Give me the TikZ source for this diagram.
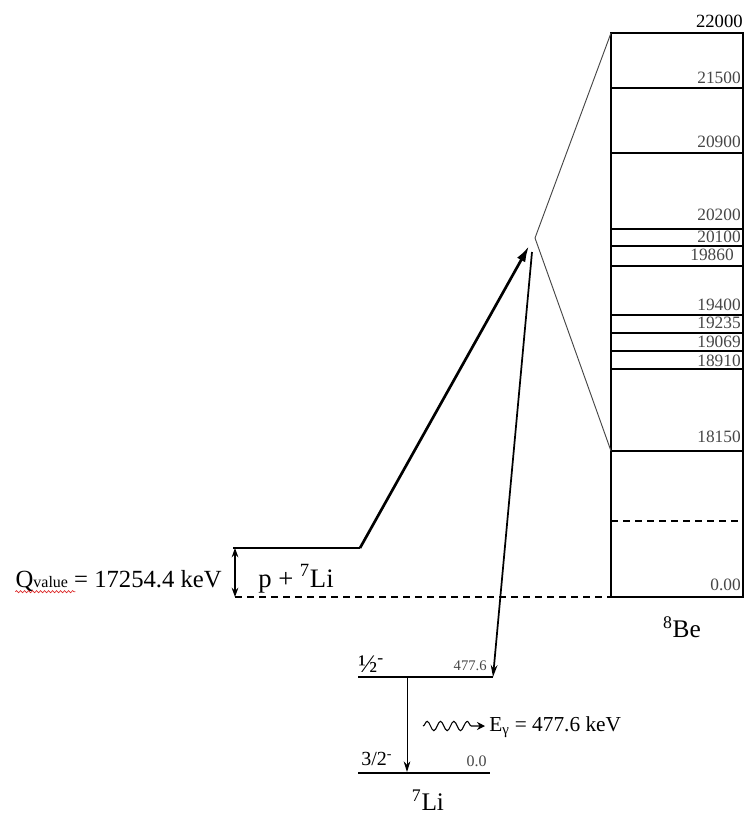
\documentclass[tikz,border=0pt]{standalone}
\usepackage{fontspec}
\setmainfont{Liberation Serif}
\usepackage{tikz}
\usetikzlibrary{
  arrows.meta,
  positioning,
  decorations.pathmorphing
}
\definecolor{LevelGray}{RGB}{70, 70, 70}
\definecolor{SpellRed}{RGB}{220, 40, 40}

\begin{document}
\begin{tikzpicture}[x=0.75pt, y=-0.75pt,
    every node/.style={inner sep=0pt},
    boxline/.style={line width=2.2pt},
    level/.style={line width=1.5pt},
    dashlevel/.style={line width=2.2pt, dash pattern=on 5pt off 4pt},
    zoomline/.style={line width=0.7pt, LevelGray},
    enlbl/.style={font=\fontsize{13}{15}\selectfont, text=LevelGray, anchor=base east},
    bigtxt/.style={font=\fontsize{18.5}{22}\selectfont}
  ]
  \useasboundingbox (0,0) rectangle (745,814);

  % 8Be level scheme
  \coordinate (be-tl) at (611,33);
  \coordinate (be-tr) at (743,33);
  \coordinate (be-bl) at (611,597);
  \coordinate (be-br) at (743,597);
  \coordinate (be-18150) at (611,451);
  \coordinate (apex) at (535,238);
  \draw[boxline] (be-tl) rectangle (be-br);
  \node[enlbl, font=\fontsize{14}{16}\selectfont, text=black] (e22000) at (743,27) {22000};
  \foreach \ly/\en/\ty in {88/21500/83, 153/20900/147, 229/20200/220, 246/20100/242,
                           315/19400/310, 333/19235/328, 351/19069/347, 369/18910/366,
                           451/18150/442} {
    \draw[level] (611,\ly) -- (743,\ly);
    \node[enlbl] at (741,\ty) {\en};
  }
  \draw[level] (611,266) -- (743,266);
  \node[enlbl] (e19860) at (734,260) {19860};
  \draw[dashlevel] (611,521) -- (743,521);
  \node[enlbl] (e0) at (741,590) {0.00};
  \node[font=\fontsize{19}{22}\selectfont, anchor=base] (belbl) at (682,637) {\textsuperscript{8}Be};

  % zoom lines
  \draw[zoomline] (be-tl) -- (apex) -- (be-18150);

  % entrance channel
  \coordinate (pli-l) at (233,548);
  \coordinate (pli-r) at (360,548);
  \coordinate (q-top) at (235,548);
  \coordinate (q-bot) at (235,597);
  \draw[level] (pli-l) -- (pli-r);
  \draw[dashlevel] (q-bot) -- (be-bl);
  \draw[line width=1pt, {Stealth[length=7pt, width=5pt]}-{Stealth[length=7pt, width=5pt]}] (q-top) -- (q-bot);
  \node[bigtxt, anchor=base east] (qval) at (222,587)
    {Q{\fontsize{12}{14}\selectfont value} = 17254.4 keV};
  \draw[SpellRed, line width=0.5pt, decorate,
        decoration={snake, amplitude=0.8pt, segment length=3pt}]
    ([yshift=-3.5pt]qval.base west) -- ++(60,0);
  \node[font=\fontsize{20}{24}\selectfont, anchor=base west] (plbl) at (258,587) {p + \textsuperscript{7}Li};

  % capture and decay
  \coordinate (cap-tip) at (529,246);
  \coordinate (dec-start) at (532,252);
  \draw[line width=2pt, -{Latex[length=12pt, width=7pt]}] (pli-r) -- (cap-tip);

  % 7Li level scheme
  \coordinate (li12-l) at (358,677);
  \coordinate (li12-r) at (493,677);
  \coordinate (li32-l) at (358,773);
  \coordinate (li32-r) at (490,773);
  \draw[level] (li12-l) -- (li12-r);
  \draw[level] (li32-l) -- (li32-r);
  \draw[line width=1.3pt, -{Stealth[length=9pt, width=5pt]}] (dec-start) -- (li12-r);
  \draw[line width=0.7pt, -{Stealth[length=8pt, width=5pt]}] (407,678) -- (407,772);
  \node[font=\fontsize{19}{22}\selectfont, anchor=base west] (spin12) at (358,672) {½\textsuperscript{-}};
  \node[font=\fontsize{11}{13}\selectfont, text=LevelGray, anchor=base east] (e4776) at (487,670) {477.6};
  \node[font=\fontsize{15}{18}\selectfont, anchor=base west] (spin32) at (361,765) {3/2\textsuperscript{-}};
  \node[font=\fontsize{12}{14}\selectfont, text=LevelGray, anchor=base east] (e00) at (487,766) {0.0};
  \node[font=\fontsize{19}{22}\selectfont, anchor=base] (lilbl) at (428,810) {\textsuperscript{7}Li};

  % gamma ray
  \coordinate (g-start) at (423,726);
  \coordinate (g-end) at (485,726);
  \draw[line width=0.8pt, -{Stealth[length=6pt, width=6pt]}, decorate,
        decoration={snake, amplitude=3.5pt, segment length=10pt, post length=8pt}]
    (g-start) -- (g-end);
  \node[font=\fontsize{16}{19}\selectfont, anchor=base west] (eg) at (489,731)
    {E\textsubscript{γ} = 477.6 keV};
\end{tikzpicture}
\end{document}
